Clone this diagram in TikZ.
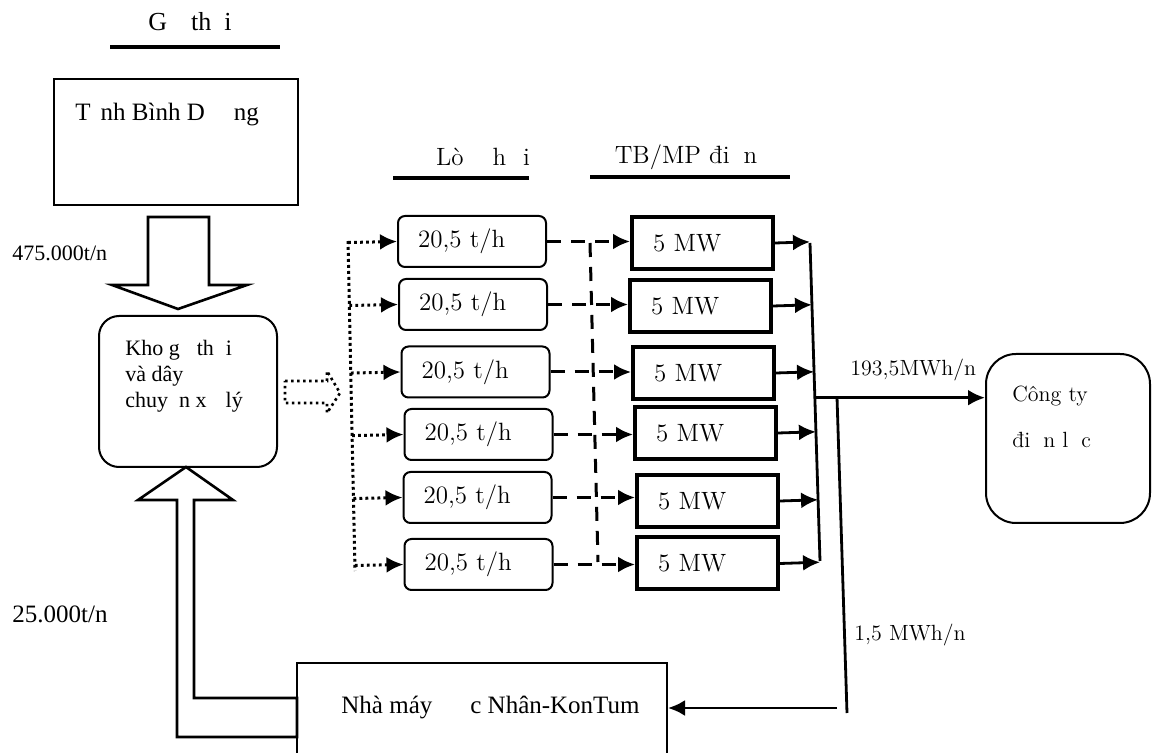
\documentclass[tikz,border=0pt]{standalone}
\usepackage{fontspec}
\newfontfamily\timesfont{Liberation Serif}
\usetikzlibrary{positioning,calc,arrows.meta}
\newcommand\gp[1]{\hspace{#1pt}}
\tikzset{
  arr/.style={-{Latex[length=8.5pt,width=8pt]}},
  tms/.style={font=\timesfont\fontsize{12.5}{15}\selectfont, inner sep=0pt},
  lm/.style={font=\fontsize{12.5}{15}\selectfont, inner sep=0pt},
  box/.style={draw, line width=1pt, inner sep=0pt},
  boiler/.style={draw, line width=1pt, rounded corners=3.5pt, minimum height=25.5pt,
    inner xsep=10pt, text width=54pt, align=left, font=\fontsize{12.5}{15}\selectfont},
  gen/.style={draw, line width=2pt, minimum height=26pt,
    inner xsep=10.5pt, text width=49.5pt, align=left, font=\fontsize{12.5}{15}\selectfont},
  rule/.style={line width=2pt},
  bus/.style={line width=1.4pt},
  dotline/.style={line width=1.5pt, dash pattern=on 1.4pt off 1.6pt},
  dashline/.style={line width=1.5pt, dash pattern=on 7pt off 5pt},
  hollow/.style={line width=1.3pt, line join=miter},
  hollowdot/.style={line width=1.3pt, dash pattern=on 1.3pt off 1.7pt}
}
\begin{document}
\begin{tikzpicture}[x=0.5pt,y=-0.5pt]
\useasboundingbox (0,0) rectangle (1152,753);

% column titles
\node[tms, font=\timesfont\fontsize{13}{15}\selectfont] (tgo) at (190,22) {G\gp{12}th\gp{6.5}i};
\draw[rule] (110,47) -- (280,47);
\node[lm] (tlo) at (483,157) {Lò\gp{14.5}h\gp{8.5}i};
\draw[rule] (393,178) -- (529,178);
\node[lm] (tmp) at (686,157) {TB/MP đi\gp{7}n};
\draw[rule] (590,177) -- (790,177);

% sources
\node[box, minimum width=122pt, minimum height=63pt] (tinh) at (176,142) {};
\node[tms, anchor=west] (tinhtxt) at (75,115) {T\gp{5}nh Bình D\gp{14.5}ng};
\node[box, rounded corners=10pt, minimum width=89pt, minimum height=75.5pt] (kho) at (188,391.5) {};
\node[tms, font=\timesfont\fontsize{11}{13}\selectfont, anchor=north west, align=left] (khotxt)
  at (125,340) {Kho g\gp{8.5}th\gp{6}i\\và dây\\chuy\gp{5.5}n x\gp{9.5}lý};
\node[box, minimum width=185pt, minimum height=60pt] (nm) at (482,723) {};
\node[tms, anchor=west] (nmtxt) at (341,707) {Nhà máy\gp{19}c Nhân-KonTum};
\node[box, rounded corners=15pt, minimum width=82pt, minimum height=84.5pt] (ct) at (1068,438.5) {};
\node[lm, font=\fontsize{11}{23}\selectfont, anchor=north west, align=left] (cttxt)
  at (1012,386) {Công ty\\đi\gp{6.5}n l\gp{6.5}c};

% flows of wood
\draw[hollow] (148,217) -- (209,217) -- (209,285) -- (247,285) -- (178,309)
  -- (112,285) -- (148,285) -- cycle;
\draw[hollow] (186,467) -- (233,500) -- (194,500) -- (194,698) -- (297,698)
  -- (297,737) -- (177,737) -- (177,500) -- (138,500) -- cycle;
\draw[hollowdot] (285,381) -- (327,381) -- (327,371) -- (340,393) -- (327,413)
  -- (327,403) -- (285,403) -- cycle;
\node[tms, font=\timesfont\fontsize{11}{13}\selectfont, anchor=west] (l475) at (12,253) {475.000t/n};
\node[tms, anchor=west] (l25) at (12,614) {25.000t/n};

% boilers and generators
\foreach \i/\x/\y in {1/472/241.5, 2/473/304.5, 3/475.5/372, 4/478.5/434.5, 5/477.5/497.5, 6/478.5/564.5}
  \node[boiler] (b\i) at (\x,\y) {20,5 t/h};
\foreach \i/\x/\y in {1/702.5/243, 2/700.5/306, 3/703.5/373, 4/705.5/433, 5/707.5/501, 6/707.5/563.5}
  \node[gen] (g\i) at (\x,\y) {5 MW};

\coordinate (dA) at (348,241);
\coordinate (dB) at (355,571);
\coordinate (vA) at (590,243);
\coordinate (vB) at (598,562);
\coordinate (sA) at (810,243);
\coordinate (sB) at (820,561);
\coordinate (tA) at (837,397);
\coordinate (tB) at (847,713);
\coordinate (ret) at (837,708);

\draw[dotline] (dA) -- (dB);
\draw[dashline] (vA) -- (vB);
\draw[bus] (sA) -- (sB);
\foreach \i in {1,...,6}{
  \draw[dotline, arr] ($(dA)!(b\i.west)!(dB)$) -- (b\i.west);
  \draw[dashline, arr] (b\i.east) -- (b\i.east -| g\i.west);
  \draw[bus, arr] (g\i.east) -- ($(sA)!(g\i.east)!(sB)$);
}

% electricity out
\coordinate (sM) at ($(sA)!(tA)!(sB)$);
\draw[bus, arr] (sM) -- (sM -| ct.west);
\draw[bus] (tA) -- (tB);
\draw[bus, arr] (ret) -- (ret -| nm.east);
\node[lm, font=\fontsize{11}{13}\selectfont, anchor=west] (l193) at (850,370) {193,5MWh/n};
\node[lm, font=\fontsize{11}{13}\selectfont, anchor=west] (l15) at (854,635) {1,5 MWh/n};
\end{tikzpicture}
\end{document}
